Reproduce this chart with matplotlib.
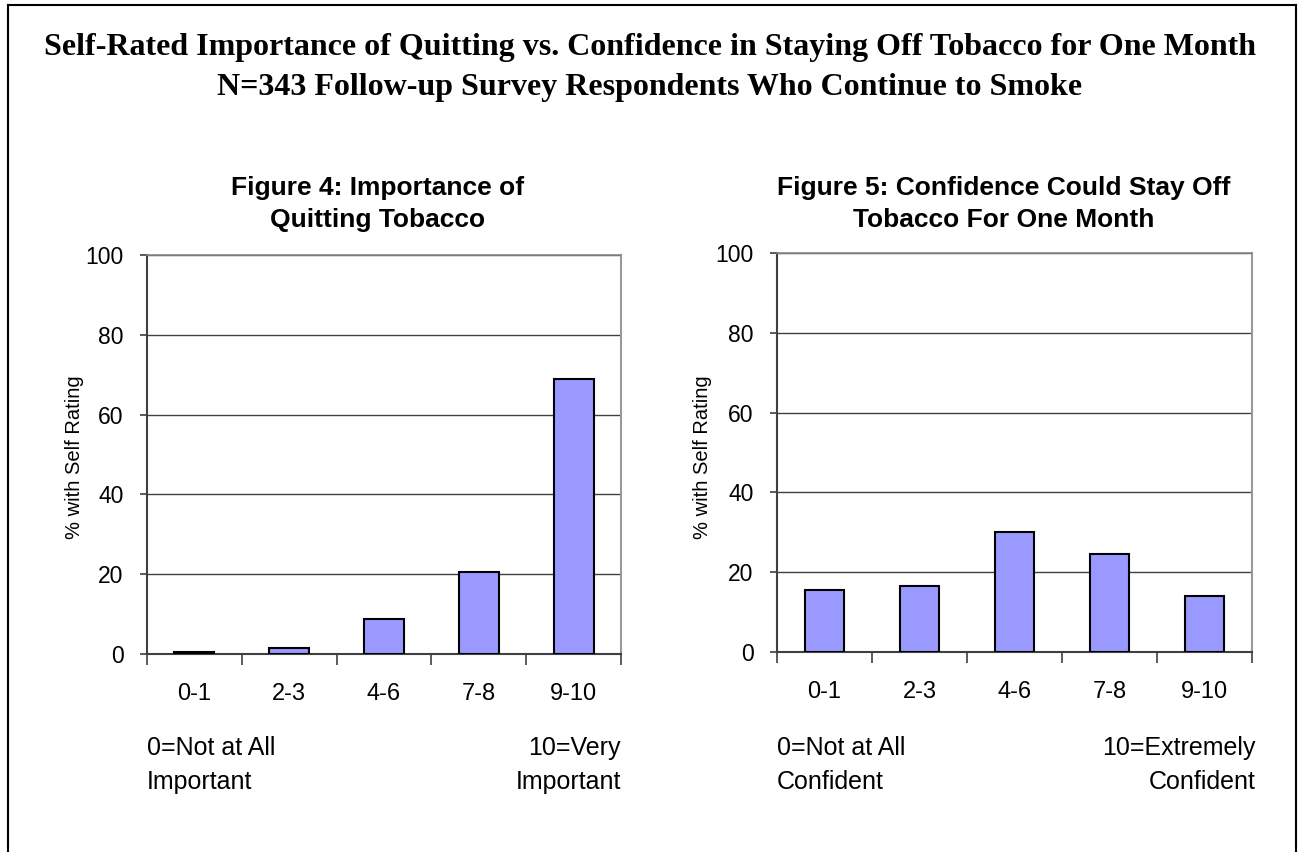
import matplotlib
matplotlib.use("Agg")
import matplotlib.pyplot as plt
from matplotlib.lines import Line2D

categories = ["0-1", "2-3", "4-6", "7-8", "9-10"]
importance = [0.6, 1.6, 8.7, 20.6, 68.8]
confidence = [15.6, 16.6, 30.1, 24.6, 14.1]

main_title = ("Self-Rated Importance of Quitting vs. Confidence in Staying Off Tobacco for One Month\n"
              "N=343 Follow-up Survey Respondents Who Continue to Smoke")
titles = ["Figure 4: Importance of\nQuitting Tobacco",
          "Figure 5: Confidence Could Stay Off\nTobacco For One Month"]
ylabel = "% with Self Rating"
notes_left = ["0=Not at All\nImportant", "0=Not at All\nConfident"]
notes_right = ["10=Very\nImportant", "10=Extremely\nConfident"]

W, H = 1299, 852
fig = plt.figure(figsize=(W / 100, H / 100), dpi=100)
plt.rcParams['font.family'] = ['Liberation Sans', 'DejaVu Sans']

def fx(px):
    return px / W

def fy(py):
    return 1 - py / H

# outer border (open at bottom)
for xs, ys in [((8, 8), (852, 5)), ((8, 1296), (5, 5)), ((1296, 1296), (5, 852))]:
    fig.add_artist(Line2D([fx(x) for x in xs], [fy(y) for y in ys], color="black", lw=1.5))

fig.text(0.5, fy(47), main_title.split("\n")[0], ha="center", va="center",
         fontsize=23, fontweight="bold", family="Liberation Serif")
fig.text(0.5, fy(87), main_title.split("\n")[1], ha="center", va="center",
         fontsize=23, fontweight="bold", family="Liberation Serif")

boxes = [(147, 621, 255, 654), (777, 1252, 253, 652)]
data = [importance, confidence]
title_cx = [378, 1004]
ylab_x = [75, 703]
note_r_x = [621, 1256]

for i in range(2):
    x0, x1, y0, y1 = boxes[i]
    ax = fig.add_axes([fx(x0), fy(y1), fx(x1) - fx(x0), (y1 - y0) / H])
    xpos = list(range(len(categories)))
    ax.bar(xpos, data[i], width=0.42, color="#9999FF", edgecolor="black", linewidth=1.5, zorder=3)
    ax.set_xlim(-0.5, len(categories) - 0.5)
    ax.set_ylim(0, 100)
    ax.set_yticks([0, 20, 40, 60, 80, 100])
    ax.set_yticklabels(["0", "20", "40", "60", "80", "100"], fontsize=16.5)
    ax.yaxis.grid(True, color="#404040", linewidth=1.0, zorder=0)
    ax.set_xticks([p + 0.5 for p in xpos[:-1]] + [-0.5, len(categories) - 0.5])
    ax.set_xticklabels([])
    ax.set_xticks(xpos, minor=True)
    ax.set_xticklabels(categories, minor=True, fontsize=17)
    ax.tick_params(axis="x", which="major", length=8, direction="out", color="#404040", width=1.2)
    ax.tick_params(axis="x", which="minor", length=0, pad=21)
    ax.tick_params(axis="y", length=5, direction="out", color="#404040", width=1.2, pad=12)
    for s in ["left", "bottom"]:
        ax.spines[s].set_color("#404040")
        ax.spines[s].set_linewidth(1.5)
    ax.spines["right"].set_color("#999999")
    ax.spines["right"].set_linewidth(1.5)
    ax.spines["top"].set_color("#888888")
    ax.spines["top"].set_linewidth(1.2)
    fig.text(fx(title_cx[i]), fy(204), titles[i], ha="center", va="center", fontsize=19,
             fontweight="bold", linespacing=1.38)
    fig.text(fx(ylab_x[i]), fy(457), ylabel, rotation=90, ha="center", va="center", fontsize=14.5)
    fig.text(fx(x0), fy(765), notes_left[i], ha="left", va="center", fontsize=18, linespacing=1.5)
    fig.text(fx(note_r_x[i]), fy(765), notes_right[i], ha="right", va="center", fontsize=18,
             linespacing=1.5, multialignment="right")

fig.savefig("out.png", dpi=100)
